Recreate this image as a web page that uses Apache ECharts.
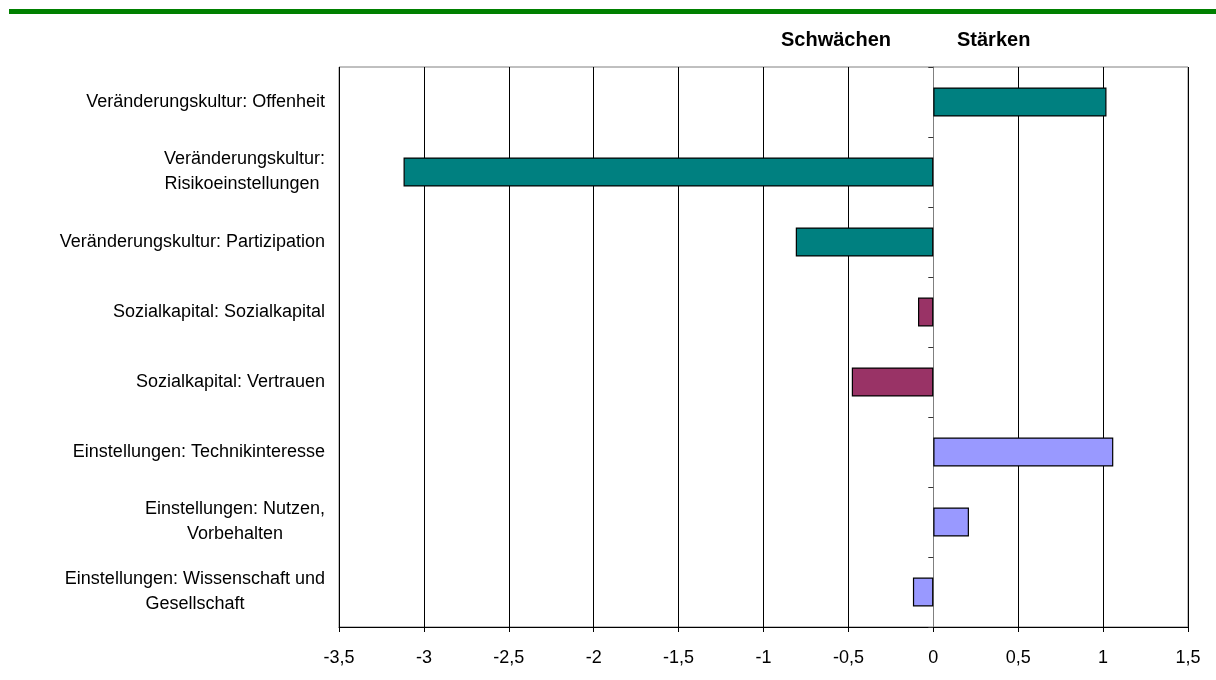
<!DOCTYPE html>
<html>
<head>
<meta charset="utf-8">
<script src="https://cdn.jsdelivr.net/npm/echarts@6/dist/echarts.min.js"></script>
<style>html,body{margin:0;padding:0;background:#fff;}#c{width:1216px;height:680px;}</style>
</head>
<body>
<div id="c"></div>
<script>
const categories = [
  "Veränderungskultur: Offenheit",
  "Veränderungskultur:\nRisikoeinstellungen ",
  "Veränderungskultur: Partizipation",
  "Sozialkapital: Sozialkapital",
  "Sozialkapital: Vertrauen",
  "Einstellungen: Technikinteresse",
  "Einstellungen: Nutzen,\nVorbehalten",
  "Einstellungen: Wissenschaft und\nGesellschaft"
];
const values = [1.02, -3.12, -0.81, -0.09, -0.48, 1.06, 0.21, -0.12];
const groups = ["Veränderungskultur","Veränderungskultur","Veränderungskultur","Sozialkapital","Sozialkapital","Einstellungen","Einstellungen","Einstellungen"];
const groupColors = {"Veränderungskultur":"#008080","Sozialkapital":"#993366","Einstellungen":"#9999FF"};
const headerLeft = "Schwächen";
const headerRight = "Stärken";

const FONT = "'Liberation Sans', Arial, sans-serif";
const chart = echarts.init(document.getElementById('c'));
chart.setOption({
  animation: false,
  backgroundColor: '#fff',
  grid: {left: 339, right: 28, top: 67, bottom: 53, show: true, borderColor: '#808080', borderWidth: 1, containLabel: false},
  graphic: [
    {type: 'rect', left: 9, top: 9, shape: {width: 1207, height: 5}, style: {fill: '#008000'}},
    {type: 'text', left: 781, top: 30, style: {text: headerLeft, font: 'bold 20px ' + FONT, fill: '#000'}},
    {type: 'text', left: 957, top: 30, style: {text: headerRight, font: 'bold 20px ' + FONT, fill: '#000'}}
  ],
  xAxis: {
    type: 'value', min: -3.5, max: 1.5, interval: 0.5,
    axisLine: {show: true, onZero: false, lineStyle: {color: '#000', width: 1}},
    axisTick: {show: true, length: 5, lineStyle: {color: '#000'}},
    axisLabel: {margin: 22, fontSize: 18, color: '#000', fontFamily: FONT,
      formatter: v => String(v).replace('.', ',')},
    splitLine: {show: true, lineStyle: {color: '#000', width: 1}}
  },
  yAxis: [
    {
      type: 'category', inverse: true, data: categories, position: 'left',
      axisLine: {show: false}, axisTick: {show: false}, splitLine: {show: false},
      axisLabel: {
        margin: 14, align: 'right', color: '#000', fontFamily: FONT, fontSize: 18, lineHeight: 25,
        formatter: v => v.split('\n').map(l => '{a|' + l + '}').join('\n'),
        rich: {a: {align: 'center', fontSize: 18, lineHeight: 25, fontFamily: FONT, color: '#000'}}
      }
    },
    {
      type: 'category', inverse: true, data: categories, position: 'left',
      axisLine: {show: true, onZero: true, onZeroAxisIndex: 0, lineStyle: {color: '#808080', width: 1}},
      axisTick: {show: true, length: 5, interval: 0, lineStyle: {color: '#333'}},
      axisLabel: {show: false}, splitLine: {show: false}
    }
  ],
  series: [{
    type: 'bar', yAxisIndex: 0, barWidth: 29,
    data: values.map((v, i) => ({value: v, itemStyle: {color: groupColors[groups[i]], borderColor: '#000', borderWidth: 1.2}}))
  }]
});
</script>
</body>
</html>
